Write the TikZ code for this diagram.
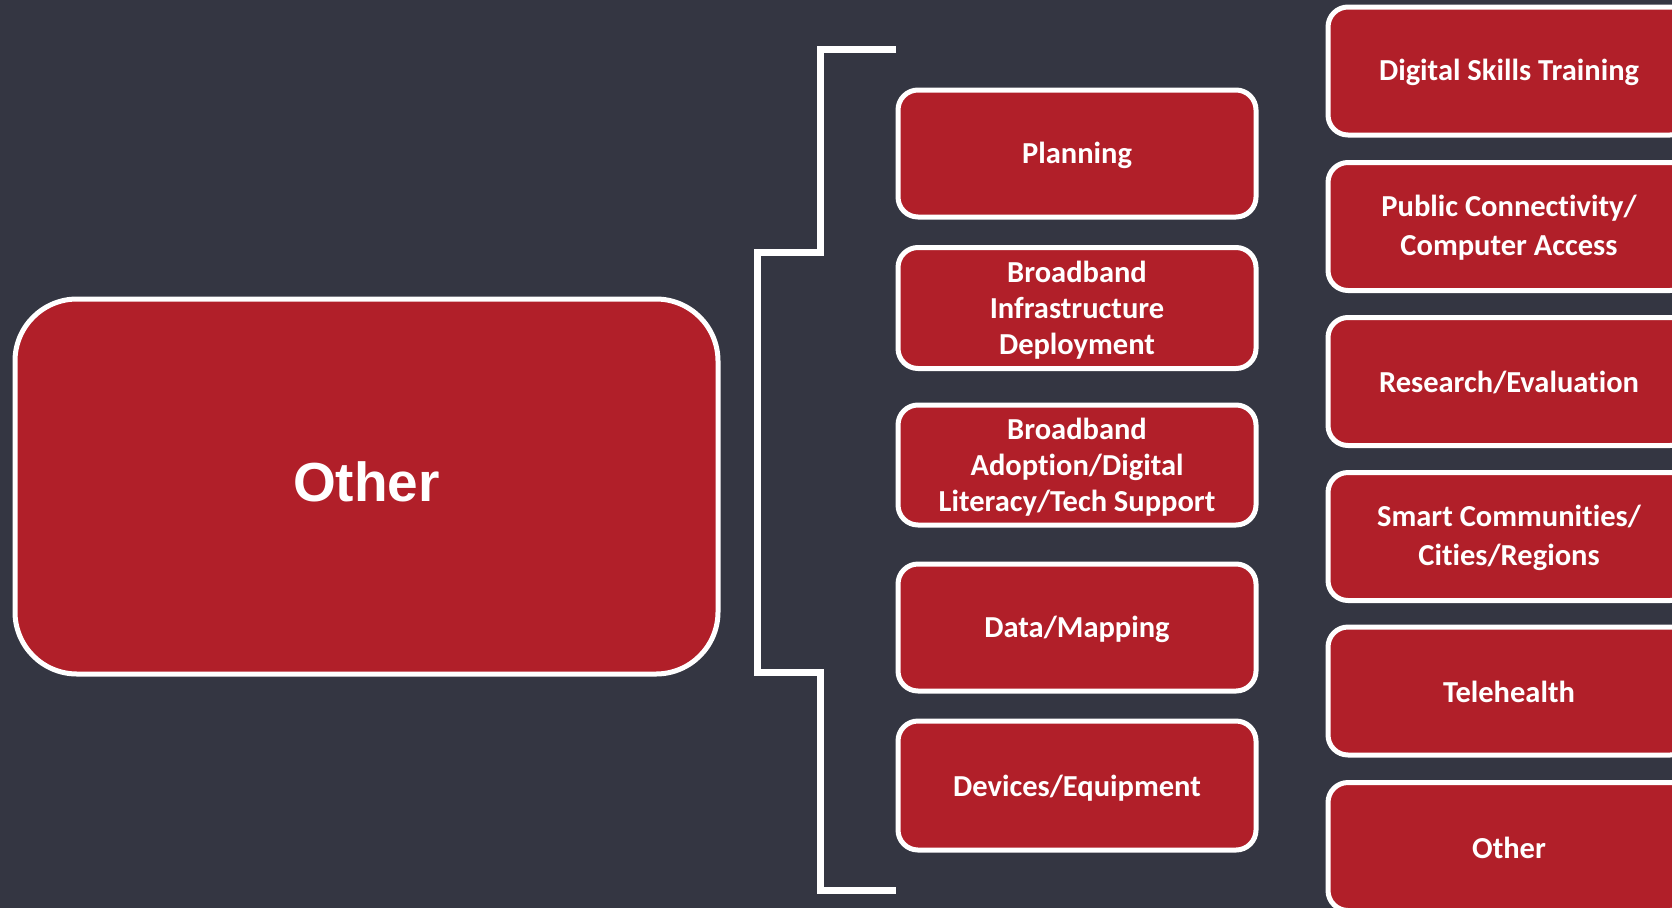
\documentclass[tikz,border=0pt]{standalone}
\usepackage{fontspec}
\setmainfont{Carlito}[Ligatures=NoCommon]
\newfontfamily\arialfont{Liberation Sans}
\definecolor{bgdark}{RGB}{52,54,66}
\definecolor{boxred}{RGB}{177,31,41}
\begin{document}
\begin{tikzpicture}[x=1pt,y=-1pt,
  redbox/.style={draw=white, line width=5pt, fill=boxred, rounded corners=20pt,
    inner sep=0pt, outer sep=0pt},
  boxtext/.style={text=white, align=center, inner sep=0pt},
  midtext/.style={boxtext, yshift=-2.2pt, font=\fontsize{30.5}{36}\selectfont\bfseries},
  righttext/.style={boxtext, yshift=-1.3pt, font=\fontsize{30.5}{39.5}\selectfont\bfseries},
  midbox/.style={redbox, minimum width=358pt},
  rightbox/.style={redbox, minimum width=362pt, minimum height=128pt},
  bracketline/.style={draw=white, line width=7pt}]
\useasboundingbox (0,0) rectangle (1672,908);
\clip (0,0) rectangle (1672,908);
\fill[bgdark] (0,0) rectangle (1672,908);

% main box
\node[redbox, rounded corners=62pt, minimum width=703pt, minimum height=375pt,
  label={[boxtext, yshift=5pt, font=\arialfont\fontsize{55}{66}\selectfont\bfseries]center:Other}] (main) at (366.5,486.5) {};

% middle column
\node[midbox, minimum height=127pt, label={[midtext]center:Planning}] (plan) at (1077,153.5) {};
\node[midbox, minimum height=121pt, label={[midtext]center:{Broadband\\Infrastructure\\Deployment}}] (infra) at (1077,308) {};
\node[midbox, minimum height=120pt, label={[midtext]center:{Broadband\\Adoption/Digital\\Literacy/Tech Support}}] (adopt) at (1077,465) {};
\node[midbox, minimum height=127pt, label={[midtext]center:Data/Mapping}] (data) at (1077,627.5) {};
\node[midbox, minimum height=129pt, label={[midtext]center:Devices/Equipment}] (dev) at (1077,785.5) {};

% right column
\node[rightbox, label={[righttext]center:Digital Skills Training}] (dst) at (1509,71) {};
\node[rightbox, label={[righttext]center:{Public Connectivity/\\Computer Access}}] (pca) at (1509,226.5) {};
\node[rightbox, label={[righttext]center:Research/Evaluation}] (res) at (1509,381.5) {};
\node[rightbox, label={[righttext]center:{Smart Communities/\\Cities/Regions}}] (smart) at (1509,536.5) {};
\node[rightbox, label={[righttext]center:Telehealth}] (tele) at (1509,691) {};
\node[rightbox, label={[righttext]center:Other}] (oth) at (1509,846.5) {};

% bracket
\coordinate (btop) at (896,49);
\coordinate (bbot) at (896,890);
\draw[bracketline] (btop) -- (820,49) -- (820,252) -- (757,252) -- (757,672) -- (820,672) -- (820,890) -- (bbot);
\end{tikzpicture}
\end{document}
